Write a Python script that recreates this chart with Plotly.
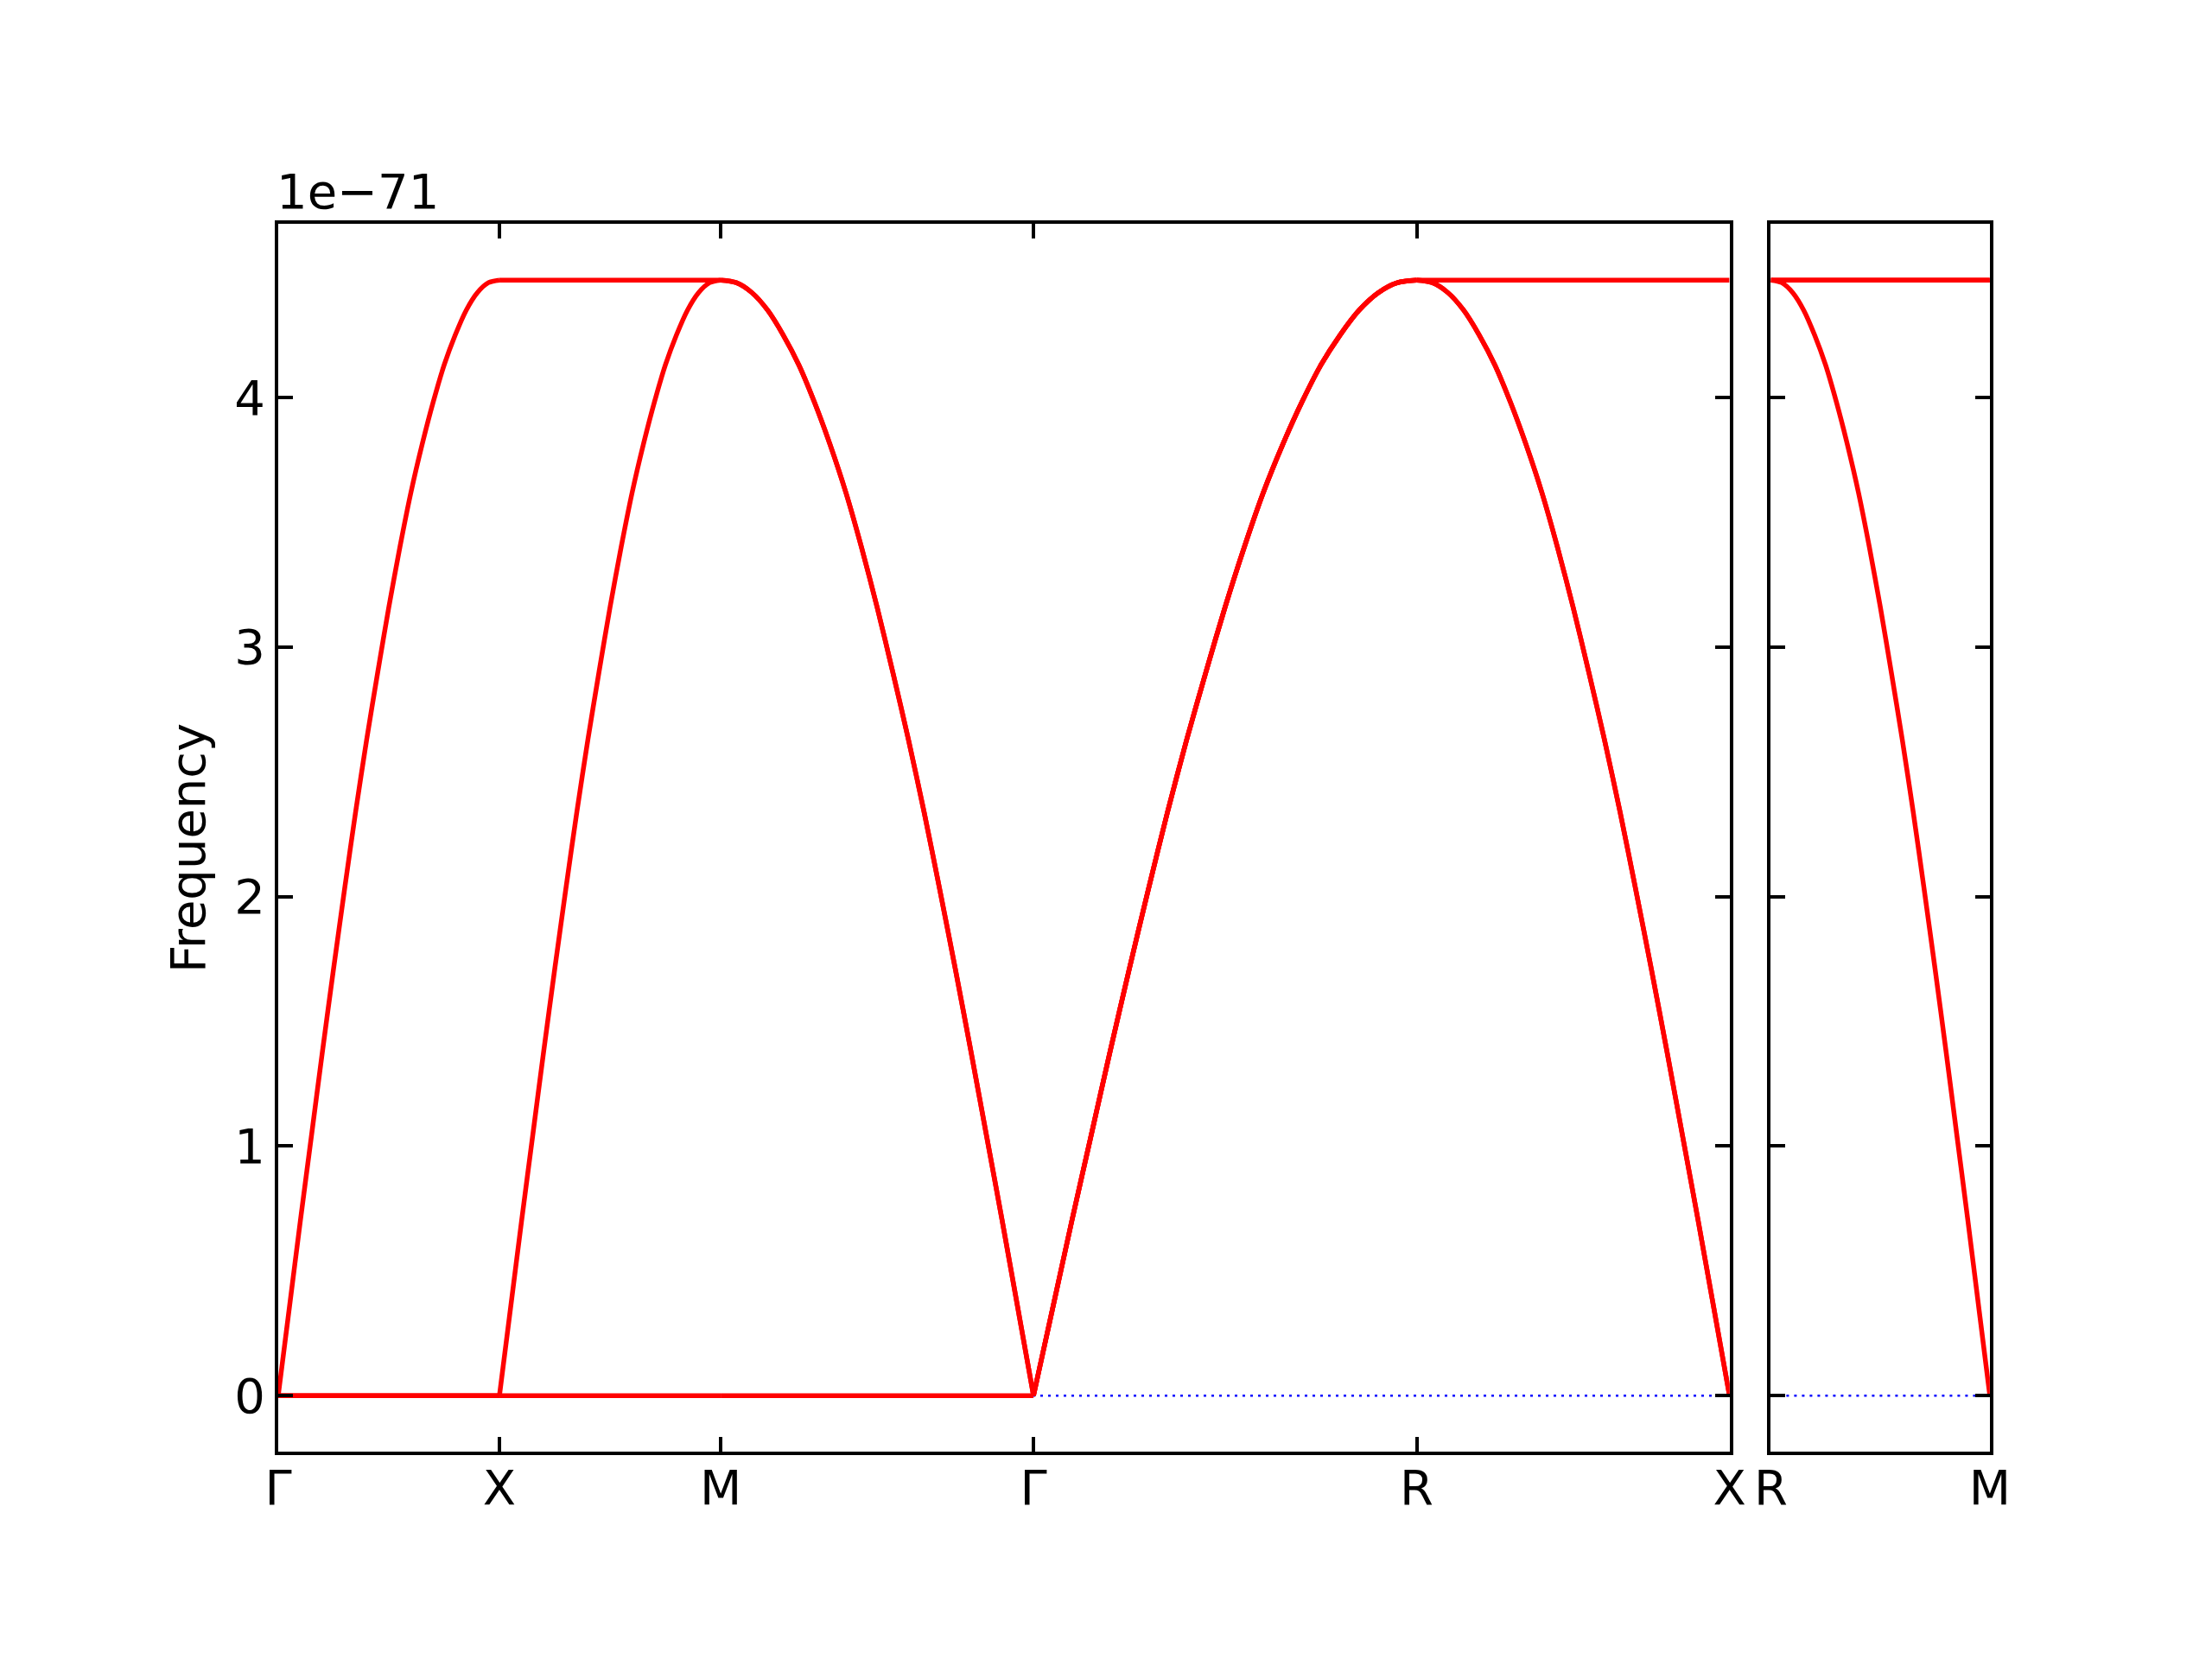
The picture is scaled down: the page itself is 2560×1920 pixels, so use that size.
import plotly.graph_objects as go

# ---- data ----
kpath_labels = ["Γ", "X", "M", "Γ", "R", "X"]
kpath_dist = [0.0, 1.0, 2.0, 3.414, 5.146, 6.560]
right_labels = ["R", "M"]
right_dist = [0.0, 1.0]

# sampling positions (fraction along each segment)
seg_frac = [0.0, 0.05, 0.10, 0.15, 0.20, 0.25, 0.30, 0.35, 0.40, 0.45, 0.50,
            0.55, 0.60, 0.65, 0.70, 0.75, 0.80, 0.85, 0.90, 0.95, 1.0]
# frequency (x1e-71) of a branch rising from 0 to the band top along a segment
rise_vals = [0.0, 0.35, 0.70, 1.04, 1.38, 1.71, 2.03, 2.34, 2.63, 2.90, 3.16,
             3.40, 3.62, 3.81, 3.98, 4.13, 4.25, 4.35, 4.42, 4.46, 4.47]
fall_vals = rise_vals[::-1]
top_vals = [4.47] * len(seg_frac)
zero_vals = [0.0] * len(seg_frac)

shapes = {"rise": rise_vals, "fall": fall_vals, "top": top_vals, "zero": zero_vals}
# left panel segments: Γ-X, X-M, M-Γ, Γ-R, R-X
band1_left = ["rise", "top", "fall", "rise", "top"]
band2_left = ["zero", "rise", "fall", "rise", "fall"]
band3_left = ["zero", "zero", "zero", "rise", "fall"]
# right panel segment: R-M
band1_right = ["top"]
band2_right = ["top"]
band3_right = ["fall"]

y_ticks = [0, 1, 2, 3, 4]
y_range = [-0.2236, 4.6956]

fig = go.Figure()
FONT = "DejaVu Sans"
RED = "#ff0000"
BLUE_DASH = dict(color="#0000ff", width=2.5, dash="3px,6px")

# blue dotted reference (zero) line under the bands
fig.add_trace(go.Scatter(x=[kpath_dist[0], kpath_dist[-1]], y=[0, 0], mode="lines",
                         line=BLUE_DASH, xaxis="x", yaxis="y",
                         showlegend=False, hoverinfo="skip"))
fig.add_trace(go.Scatter(x=[right_dist[0], right_dist[-1]], y=[0, 0], mode="lines",
                         line=BLUE_DASH, xaxis="x2", yaxis="y2",
                         showlegend=False, hoverinfo="skip"))


def add_band(band, dists, xa, ya):
    for i, name in enumerate(band):
        a, b = dists[i], dists[i + 1]
        xs = [a + f * (b - a) for f in seg_frac]
        fig.add_trace(go.Scatter(x=xs, y=shapes[name], mode="lines",
                                 line=dict(color=RED, width=5.5, shape="spline",
                                           smoothing=0.8),
                                 xaxis=xa, yaxis=ya, showlegend=False))


for band in (band3_left, band2_left, band1_left):
    add_band(band, kpath_dist, "x", "y")
for band in (band3_right, band2_right, band1_right):
    add_band(band, right_dist, "x2", "y2")

axis_common = dict(showline=True, linecolor="black", linewidth=4, mirror="ticks",
                   ticks="inside", ticklen=17, tickwidth=4, tickcolor="black",
                   showgrid=False, zeroline=False,
                   tickfont=dict(family=FONT, size=56, color="black"))

Y_DOM = [0.1293, 0.8692]

fig.update_layout(
    width=2560, height=1920,
    margin=dict(l=0, r=0, t=0, b=0),
    paper_bgcolor="white", plot_bgcolor="white",
    font=dict(family=FONT, color="black"),
    xaxis=dict(domain=[0.1172, 0.7845], range=[kpath_dist[0], kpath_dist[-1]],
               tickmode="array", tickvals=kpath_dist, ticktext=kpath_labels,
               ticklabelstandoff=-10, anchor="y", **axis_common),
    yaxis=dict(domain=Y_DOM, range=y_range, tickmode="array",
               tickvals=y_ticks, ticktext=[str(v) for v in y_ticks],
               anchor="x", **axis_common),
    xaxis2=dict(domain=[0.8035, 0.9042], range=[right_dist[0], right_dist[-1]],
                tickmode="array", tickvals=right_dist, ticktext=right_labels,
                ticklabelstandoff=-10, anchor="y2", **axis_common),
    yaxis2=dict(domain=Y_DOM, range=y_range, tickmode="array",
                tickvals=y_ticks, showticklabels=False, anchor="x2", **axis_common),
    annotations=[
        dict(text="1e\u221271", x=0.1155, y=1 - 213 / 1920, xref="paper", yref="paper",
             xanchor="left", yanchor="middle", showarrow=False,
             font=dict(family=FONT, size=56, color="black")),
        dict(text="Frequency", x=0.0755, y=1 - 974 / 1920, xref="paper", yref="paper",
             xanchor="center", yanchor="middle", textangle=-90, showarrow=False,
             font=dict(family=FONT, size=56, color="black")),
    ],
)

fig.write_html("out.html")
